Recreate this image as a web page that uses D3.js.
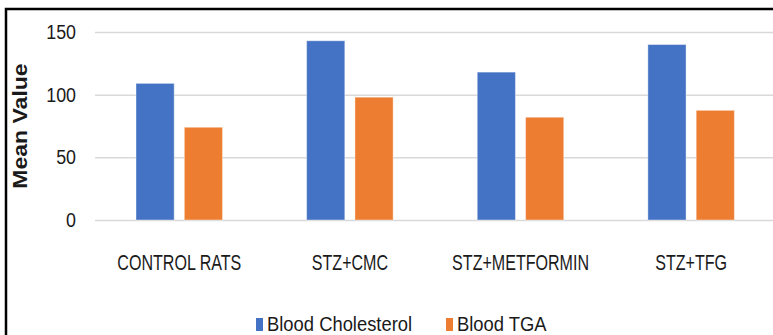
<!DOCTYPE html>
<html>
<head>
<meta charset="utf-8">
<script src="https://cdn.jsdelivr.net/npm/d3@7"></script>
<style>
  body { margin: 0; background: #fff; }
  svg { display: block; }
  text { font-family: 'Liberation Sans', Arial, sans-serif; fill: #1a1a1a; }
</style>
</head>
<body>
<div id="grafica"></div>
<script>
// datos
grupos = ['CONTROL RATS', 'STZ+CMC', 'STZ+METFORMIN', 'STZ+TFG']
series = ['Blood Cholesterol', 'Blood TGA']
colesterol = [109, 143, 118, 140]
tga = [74, 98, 82, 87.5]
ticks = [0, 50, 100, 150]
colores = ['#4472C4', '#ED7D31']

ancho_total = 773
alto_total = 335

svg = d3.select('#grafica')
  .append('svg')
  .attr('width', ancho_total)
  .attr('height', alto_total)

// marco negro
svg.append('rect')
  .attr('x', 6)
  .attr('y', 9)
  .attr('width', 900)
  .attr('height', 500)
  .attr('fill', 'none')
  .attr('stroke', '#000')
  .attr('stroke-width', 2.5)

x0 = d3.scaleBand().domain(grupos).range([94, 776.5])
x1 = d3.scaleBand().domain(series).range([42, 128.5]).paddingInner(0.21)
y = d3.scaleLinear().domain([0, 150]).range([220, 32])
color = d3.scaleOrdinal().domain(series).range(colores)

// lineas de la cuadricula
yAxis = svg.append('g')
  .attr('transform', 'translate(95,0)')
  .call(d3.axisLeft(y).tickValues(ticks).tickSize(-700).tickFormat(''))
yAxis.select('.domain').remove()
yAxis.selectAll('.tick line').attr('stroke', '#d9d9d9').attr('stroke-width', 1.5)

// etiquetas del eje y
svg.selectAll('.ylab')
  .data(ticks)
  .enter()
  .append('text')
  .attr('class', 'ylab')
  .attr('transform', d => `translate(76, ${y(d) + 7}) scale(0.85,1)`)
  .attr('text-anchor', 'end')
  .attr('font-size', '21px')
  .text(d => d)

svg.append('text')
  .attr('transform', 'translate(27,126) rotate(-90) scale(1,0.9)')
  .attr('text-anchor', 'middle')
  .attr('font-size', '23px')
  .attr('font-weight', 'bold')
  .text('Mean Value')

filas = grupos.map((g, i) => ({ grupo: g, valores: [colesterol[i], tga[i]] }))

barras = svg.selectAll('.grupo')
  .data(filas)
  .enter()
  .append('g')
  .attr('transform', d => `translate(${x0(d.grupo)},0)`)

barras.selectAll('rect')
  .data(d => d.valores.map((v, j) => ({ s: series[j], v: v })))
  .enter()
  .append('rect')
  .attr('x', d => x1(d.s))
  .attr('y', d => y(d.v))
  .attr('width', x1.bandwidth())
  .attr('height', d => y(0) - y(d.v))
  .attr('fill', d => color(d.s))
  .attr('stroke', '#fff')
  .attr('stroke-opacity', 0.4)
  .attr('stroke-width', 1)

// etiquetas de categorias
svg.selectAll('.xlab')
  .data(grupos)
  .enter()
  .append('text')
  .attr('class', 'xlab')
  .attr('transform', d => `translate(${x0(d) + x0.bandwidth() / 2}, 270) scale(0.73,1)`)
  .attr('text-anchor', 'middle')
  .attr('font-size', '22px')
  .text(d => d)

// leyenda
leyenda = svg.append('g')
posLeyenda = [256, 446]
series.forEach((s, i) => {
  ren = leyenda.append('g').attr('transform', `translate(${posLeyenda[i]}, 0)`)
  ren.append('rect')
    .attr('x', 0)
    .attr('y', 318)
    .attr('width', 7)
    .attr('height', 13)
    .attr('fill', color(s))
  ren.append('text')
    .attr('transform', 'translate(11, 331) scale(0.92,1)')
    .attr('font-size', '20px')
    .text(s)
})
</script>
</body>
</html>
